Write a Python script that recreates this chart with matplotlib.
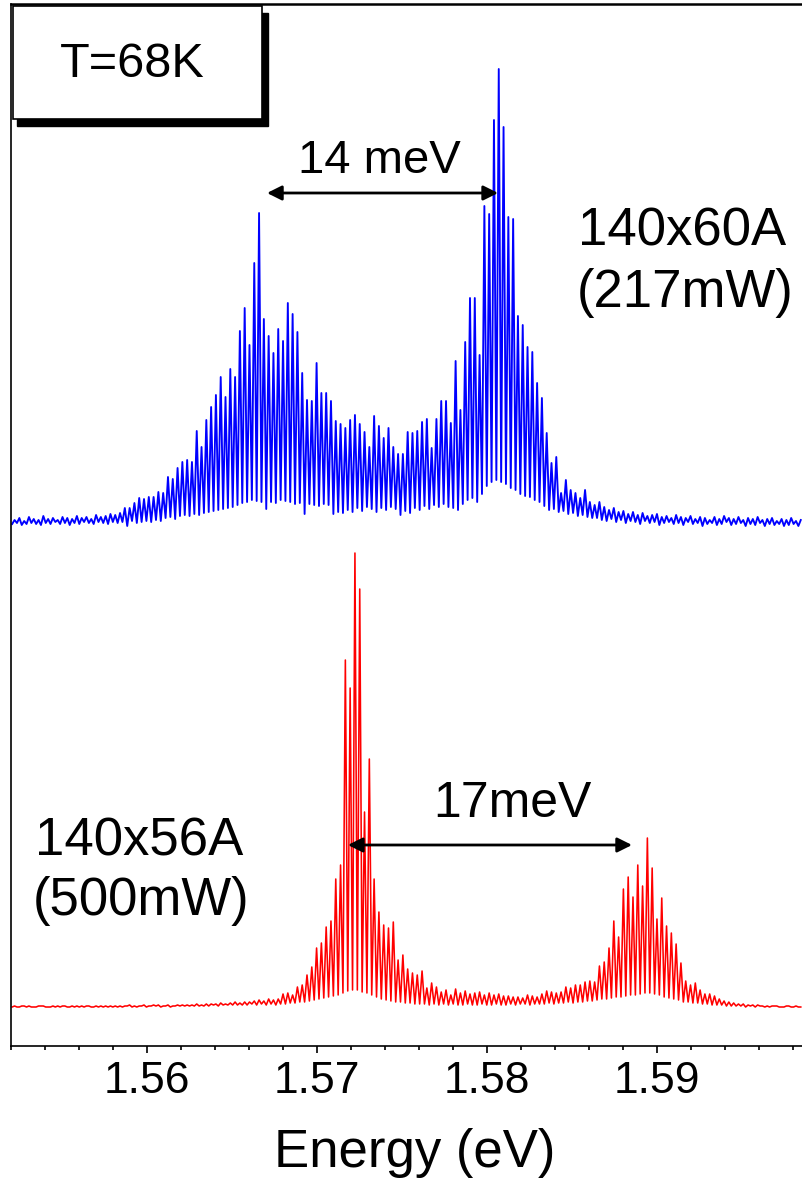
import numpy as np
import matplotlib
matplotlib.use('Agg')
import matplotlib.pyplot as plt
from matplotlib.patches import Rectangle
from matplotlib.ticker import MultipleLocator

plt.rcParams['font.family'] = ['Liberation Sans', 'DejaVu Sans']

# longitudinal mode grid (eV) shared by both spectra
mode_e0 = 1.55221
mode_step = 0.000282

# 140x60A (217mW): peak / valley intensity of each mode (arb. units)
blue_peaks = [4, 6, 3, 7, 5, 4, 8, 5, 6, 4, 7, 6, 5, 8, 6, 7, 5, 9, 7, 8, 10, 9,
              11, 16, 16, 21, 26, 25, 27, 27, 32, 31,
              47, 45, 56, 62, 64, 62, 93, 77, 104, 117,
              129, 147, 127, 155, 147, 193, 216, 179, 261, 311,
              205, 188, 171, 195, 183, 221, 210, 192, 151, 124,
              123, 161, 131, 131, 123, 103, 100, 96, 104, 109,
              100, 92, 77, 108, 98, 86, 96, 77, 70, 70,
              92, 91, 93, 102, 105, 76, 105, 123, 123, 101,
              163, 114, 182, 226, 226, 169, 318, 310, 404, 455,
              397, 307, 305, 208, 199, 177, 172, 141, 126, 91,
              61, 67, 31, 44, 34, 31, 26, 34, 22, 19, 22,
              17, 14, 16, 12, 13, 10, 12, 9, 11, 8, 9, 10, 7, 8, 6, 9, 7, 6, 8, 5,
              7, 6, 4, 7, 5, 8, 6, 5, 7, 4, 6, 5, 7, 4, 5, 6, 3, 5, 4, 6, 3, 4]
blue_valleys = [0, 1, -1, 0, 1, 0, -1, 1, 0, 2, 0, 1, -1, 1, 0, 2, 1, 0, 2, 1, 0, 2,
                1, 2, -2, 3, 1, 2, 3, 2, 4, 3,
                6, 7, 5, 8, 9, 8, 10, 9, 11, 12, 13, 14, 15, 16, 17,
                19, 21, 22, 24, 23, 22, 15, 22, 21, 24, 23, 22, 20, 21,
                10, 20, 19, 18, 20, 19, 10, 12, 11, 14, 12, 16, 13, 17, 15,
                12, 16, 14, 17, 15, 9, 13, 11, 16, 14, 18, 15, 19, 17, 20,
                17, 16, 14, 20, 24, 26, 22, 30, 38, 42,
                44, 42, 40, 36, 34, 30, 28, 27, 24, 22, 18, 14,
                15, 12, 13, 10, 11, 8, 9, 7, 6, 6,
                4, 3, 5, 2, 4, 1, 3, 2, 0, 3, 1, 2, -1, 1, 2, 0, 1, -1, 2, 0,
                1, -2, 0, 1, -1, 0, 2, -1, 0, 1, -2, 0, -1, 1, -2, 0, -1, 0, -2, -1, 0, -2]

# 140x56A (500mW)
red_peaks = [1, 0, 1, 1, 0, 1, 1, 0, 1, 1, 1, 0, 1, 1, 1, 1, 0, 1, 1, 1,
             1, 1, 1, 1, 2, 1, 1, 2, 1, 2, 2,
             1, 2, 1, 2, 2, 2, 2, 3, 2,
             3, 3, 3, 4, 3, 4, 5, 4, 5, 5, 6, 7, 6, 8, 7,
             8, 13, 14, 12, 20, 22, 32, 40, 59, 64, 80, 86, 128, 142,
             347, 319, 454, 418, 195, 248, 128, 95, 82, 79, 85, 47,
             52, 38, 34, 32, 36, 19, 24, 20, 15, 17, 12, 18, 14, 16, 13, 14, 15, 12, 14, 12,
             13, 11, 11, 10, 10, 9, 12, 11, 10, 13, 16, 15, 14, 15, 20, 19, 22, 22,
             25, 26, 25, 41, 45, 59, 86, 70, 118, 130, 110, 142, 121, 169,
             139, 88, 109, 81, 74, 63, 44, 26, 22, 24, 17, 13, 13, 11, 8, 6, 5, 4, 3, 3,
             2, 2, 2, 1, 1, 1, 1, 0, 1, 0, 1, 0]
red_valleys = [0, 0, 1, 0, 0, 0, 1, 0, 0, 0, 0, 1, 0, 0, 0, 0, 1, 0, 0, 0,
               0, 0, 0, 0, 1, 0, 0, 1, 0, 1, 1,
               0, 1, 0, 1, 1, 1, 1, 1, 1, 1, 1, 2, 1, 2, 2, 2, 2, 2, 2, 3, 2, 3, 2, 3,
               2, 3, 3, 4, 4, 5, 5, 6, 7, 8, 9, 10, 11, 12,
               14, 16, 17, 17, 15, 14, 12, 10, 8, 7, 6, 5,
               5, 4, 4, 3, 3, 3, 2, 3, 2, 3,
               2, 3, 2, 2, 3, 2, 2, 3, 2, 2, 3, 2, 2, 3, 2, 3, 3, 2, 3, 3,
               3, 4, 3, 4, 4, 5, 4, 5, 5, 6, 6, 7,
               8, 8, 9, 10, 10, 11, 12, 12, 13, 14,
               14, 13, 12, 10, 9, 8, 7, 5, 5, 4, 4, 3, 3, 2, 2, 2, 1, 1, 1, 1,
               0, 1, 0, 1, 0, 0, 1, 0, 0, 1, 0, 0]

tick_vals = [1.56, 1.57, 1.58, 1.59]


def spectrum(peaks, valleys, offset):
    e = mode_e0 + mode_step * np.arange(len(peaks))
    x = np.empty(2 * len(peaks))
    y = np.empty(2 * len(peaks))
    x[0::2] = e - mode_step / 2
    x[1::2] = e
    y[0::2] = np.array(valleys) + offset
    y[1::2] = np.array(peaks) + offset
    return x, y


fig = plt.figure(figsize=(8.02, 11.86), dpi=100)
ax = fig.add_axes([11 / 802, 140 / 1186, 1 - 11 / 802, 1042 / 1186])

bx, by = spectrum(blue_peaks, blue_valleys, 522)
rx, ry = spectrum(red_peaks, red_valleys, 39)
ax.plot(bx, by, color='#0000ff', lw=1.35)
ax.plot(rx, ry, color='#ff0000', lw=1.15)

ax.set_xlim(1.552, 1.59853)
ax.set_ylim(0, 1042)
ax.set_yticks([])
ax.set_xticks(tick_vals)
ax.set_xticklabels([f'{v:.2f}' for v in tick_vals])
ax.xaxis.set_minor_locator(MultipleLocator(0.002))
ax.tick_params(axis='x', which='major', direction='out', length=5, width=1.2,
               labelsize=32, pad=6)
ax.tick_params(axis='x', which='minor', direction='out', length=3, width=1.2)
ax.spines['right'].set_visible(False)
ax.spines['top'].set_linewidth(1.8)
ax.spines['left'].set_linewidth(1.2)
ax.spines['bottom'].set_linewidth(1.2)

lab = ax.set_xlabel('Energy (eV)', fontsize=38)
lab.set_va('baseline')
ax.xaxis.set_label_coords(0.51, -121 / 1042)

# peak separation arrows
arrow = dict(arrowstyle='<|-|>', color='black', lw=2, mutation_scale=22,
             shrinkA=0, shrinkB=0)
ax.annotate('', xy=(1.58065, 853), xytext=(1.56706, 853), arrowprops=arrow)
ax.annotate('', xy=(1.58853, 201), xytext=(1.57182, 201), arrowprops=arrow)
ax.text(1.56888, 873, '14 meV', fontsize=34, va='baseline', ha='left')
ax.text(1.57682, 229, '17meV', fontsize=36, va='baseline', ha='left')

ax.text(1.58535, 801, '140x60A', fontsize=38, va='baseline', ha='left')
ax.text(1.58529, 739, '(217mW)', fontsize=38, va='baseline', ha='left')
ax.text(1.55341, 191, '140x56A', fontsize=38, va='baseline', ha='left')
ax.text(1.55329, 131, '(500mW)', fontsize=38, va='baseline', ha='left')

# temperature box with drop shadow
W, H = 802, 1186
fig.add_artist(Rectangle((17 / W, 1060 / H), 251 / W, 113 / H, transform=fig.transFigure,
                         facecolor='black', edgecolor='black', zorder=5))
fig.add_artist(Rectangle((13 / W, 1067 / H), 249 / W, 113 / H, transform=fig.transFigure,
                         facecolor='white', edgecolor='black', lw=1.2, zorder=6))
fig.text(60 / W, (H - 77) / H, 'T=68K', fontsize=35, va='baseline', ha='left', zorder=7)

fig.savefig('out.png', dpi=100)
